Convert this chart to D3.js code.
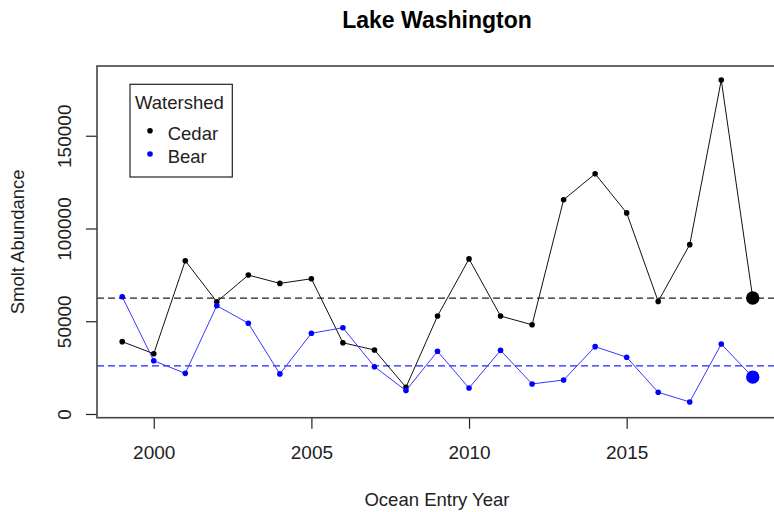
<!DOCTYPE html>
<html>
<head>
<meta charset="utf-8">
<script src="https://cdn.jsdelivr.net/npm/d3@7"></script>
<style>
  body { margin: 0; background: #fff; }
  svg { display: block; font-family: "Liberation Sans", Arial, sans-serif; }
</style>
</head>
<body>
<script>
// data
var years = [1999, 2000, 2001, 2002, 2003, 2004, 2005, 2006, 2007, 2008, 2009,
             2010, 2011, 2012, 2013, 2014, 2015, 2016, 2017, 2018, 2019];
var cedar = [39000, 32500, 82600, 60500, 74900, 70400, 72900, 38400, 34500, 14400, 52800,
             83600, 52800, 48100, 115500, 129500, 108400, 60700, 91300, 180000, 62500];
var bear  = [63200, 28700, 21900, 58400, 48900, 21600, 43500, 46500, 25500, 12600, 33800,
             14000, 34300, 16200, 18300, 36300, 30600, 11700, 6500, 37700, 19900];
var cedarMean = 62500,
    bearMean = 25900;
var xTicks = [2000, 2005, 2010, 2015];
var yTicks = [0, 50000, 100000, 150000];

// canvas
var W = 774, H = 512;
var box = {left: 97, right: 778, top: 66, bottom: 417.7};

var x = d3.scaleLinear().domain([1998.2, 2019.8]).range([box.left, box.right]),
    y = d3.scaleLinear().domain([-2000, 187600]).range([box.bottom, box.top]);

var svg = d3.select("body").append("svg")
    .attr("width", W)
    .attr("height", H);

// title + axis labels
svg.append("text")
    .attr("x", 437).attr("y", 28)
    .attr("text-anchor", "middle")
    .style("font-size", "23px").style("font-weight", "bold")
    .text("Lake Washington");

svg.append("text")
    .attr("x", 437).attr("y", 506)
    .attr("text-anchor", "middle")
    .style("font-size", "18.5px").attr("fill", "#222")
    .text("Ocean Entry Year");

svg.append("text")
    .attr("transform", "translate(24," + ((box.top + box.bottom) / 2) + ") rotate(-90)")
    .attr("text-anchor", "middle")
    .style("font-size", "18.5px").attr("fill", "#222")
    .text("Smolt Abundance");

// axes
var xAxis = svg.append("g")
    .attr("transform", "translate(0," + box.bottom + ")")
    .call(d3.axisBottom(x).tickValues(xTicks).tickFormat(d3.format("d")).tickSize(11).tickPadding(17));

var yAxis = svg.append("g")
    .attr("transform", "translate(" + box.left + ",0)")
    .call(d3.axisLeft(y).tickValues(yTicks).tickFormat(d3.format("d")).tickSize(11));

[xAxis, yAxis].forEach(function(a) {
  a.select(".domain").remove();
  a.selectAll(".tick line").attr("stroke", "#222").attr("stroke-width", 1.2);
  a.selectAll(".tick text")
    .style("font-size", "19px").style("font-family", "Liberation Sans, Arial, sans-serif")
    .attr("fill", "#222");
});

// rotated y tick labels, like R's default
yAxis.selectAll(".tick text")
    .attr("x", null).attr("dy", null)
    .attr("text-anchor", "middle")
    .attr("transform", "translate(-26.5,0) rotate(-90)");

// mean lines
svg.append("line")
    .attr("x1", box.left).attr("x2", box.right)
    .attr("y1", y(cedarMean)).attr("y2", y(cedarMean))
    .attr("stroke", "#222").attr("stroke-dasharray", "7,4").attr("stroke-width", 1.2);
svg.append("line")
    .attr("x1", box.left).attr("x2", box.right)
    .attr("y1", y(bearMean)).attr("y2", y(bearMean))
    .attr("stroke", "#2222ff").attr("stroke-width", 1.2).attr("stroke-dasharray", "7,4");

// series
var series = [
  {name: "Cedar", values: cedar, color: "#000", line: "#111"},
  {name: "Bear", values: bear, color: "#0000ff", line: "#3838ff"}
];

var line = d3.line()
    .x(function(d, i) { return x(years[i]); })
    .y(function(d) { return y(d); });

series.forEach(function(s) {
  svg.append("path")
      .datum(s.values)
      .attr("fill", "none")
      .attr("stroke", s.line)
      .attr("stroke-width", 1)
      .attr("d", line);

  svg.selectAll(".pt-" + s.name)
      .data(s.values)
      .enter().append("circle")
      .attr("cx", function(d, i) { return x(years[i]); })
      .attr("cy", function(d) { return y(d); })
      .attr("r", function(d, i) { return i == years.length - 1 ? 6.7 : 2.8; })
      .attr("fill", s.color);
});

// plot box
svg.append("rect")
    .attr("x", box.left).attr("y", box.top)
    .attr("width", box.right - box.left).attr("height", box.bottom - box.top)
    .attr("fill", "none").attr("stroke", "#444").attr("stroke-width", 1.6);

// legend
var legend = svg.append("g");
legend.append("rect")
    .attr("x", 130).attr("y", 84.3).attr("width", 102.3).attr("height", 92.7)
    .attr("fill", "#fff").attr("stroke", "#222").attr("stroke-width", 1.2);
legend.append("text")
    .attr("x", 135).attr("y", 109)
    .style("font-size", "18.5px").attr("fill", "#222")
    .text("Watershed");
series.forEach(function(s, i) {
  legend.append("circle")
      .attr("cx", 150).attr("cy", 130.7 + i * 23.3).attr("r", 2.8)
      .attr("fill", s.color);
  legend.append("text")
      .attr("x", 167.7).attr("y", 140 + i * 23.3)
      .style("font-size", "18.5px").attr("fill", "#222")
      .text(s.name);
});
</script>
</body>
</html>
